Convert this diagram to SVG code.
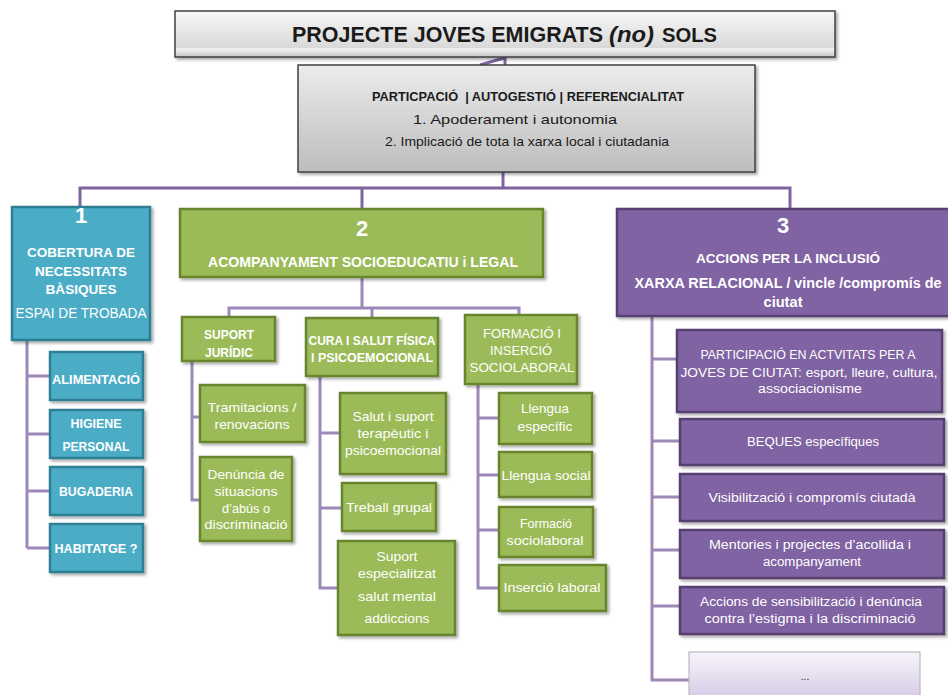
<svg xmlns="http://www.w3.org/2000/svg" width="948" height="695" viewBox="0 0 948 695">
<defs>
<linearGradient id="gTitle" x1="0" y1="0" x2="0" y2="1"><stop offset="0" stop-color="#f7f7f7"/><stop offset="0.8" stop-color="#d9d9d9"/><stop offset="0.82" stop-color="#f4f4f4"/><stop offset="1" stop-color="#c4c4c4"/></linearGradient>
<linearGradient id="gGray" x1="0" y1="0" x2="0" y2="1"><stop offset="0" stop-color="#ececec"/><stop offset="1" stop-color="#bdbdbd"/></linearGradient>
<linearGradient id="gLav" x1="0" y1="0" x2="0" y2="1"><stop offset="0" stop-color="#f7f4fb"/><stop offset="1" stop-color="#d3c8e4"/></linearGradient>
<filter id="sh" x="-10%" y="-10%" width="125%" height="130%"><feDropShadow dx="2" dy="2" stdDeviation="1.5" flood-color="#000" flood-opacity="0.35"/></filter>
</defs>
<style>
text{font-family:"Liberation Sans",Arial,sans-serif;text-anchor:middle}
.s{text-anchor:start}
.w{fill:#ffffff}
.b{font-weight:bold}
.d{fill:#1a1a1a}
.teal{fill:#4bacc6;stroke:#2f7f94;stroke-width:2.5}
.green{fill:#9bbb59;stroke:#67852f;stroke-width:2.5}
.purp{fill:#8064a2;stroke:#553f71;stroke-width:2.5}
.con{fill:none;stroke:#9d88ba;stroke-width:3}
.con2{fill:none;stroke:#8064a2;stroke-width:3}
</style>

<g id="connectors">
<path class="con2" d="M480,65 L497,60 L505,58 L505,65"/>
<path class="con2" d="M503,172 V188 M80,207 V188 H790 V209 M362,188 V209"/>
<path class="con" d="M27,340 V548 M27,376 H50 M27,434 H50 M27,491 H50 M27,548 H50"/>
<path class="con" d="M362,277 V308 M229,318 V308 H519 V316 M372,308 V318"/>
<path class="con" d="M192,361 V500 H200 M192,417 H200"/>
<path class="con" d="M320,376 V588 H338 M320,433 H340 M320,508 H342"/>
<path class="con" d="M478,384 V588 H499 M478,418 H499 M478,475 H499 M478,530 H499"/>
<path class="con" d="M652,316 V680 H689 M652,359 H677 M652,441 H680 M652,497 H680 M652,550 H680 M652,606 H680"/>
</g>

<g id="title">
<rect x="175" y="11" width="660" height="46" fill="url(#gTitle)" stroke="#404040" stroke-width="1.5" filter="url(#sh)"/>
<text x="292" y="42" class="s b d" font-size="21.3" textLength="311" lengthAdjust="spacingAndGlyphs">PROJECTE JOVES EMIGRATS</text>
<text x="609" y="42" class="s b d" font-size="21.3" font-style="italic" textLength="45" lengthAdjust="spacingAndGlyphs">(no)</text>
<text x="662" y="42" class="s b d" font-size="20.5" textLength="55" lengthAdjust="spacingAndGlyphs">SOLS</text>
</g>

<g id="principles">
<rect x="298" y="65" width="457" height="107" fill="url(#gGray)" stroke="#404040" stroke-width="1.5" filter="url(#sh)"/>
<text x="528" y="101" class="b d" font-size="12" textLength="312" lengthAdjust="spacingAndGlyphs" xml:space="preserve">PARTICPACIÓ  | AUTOGESTIÓ | REFERENCIALITAT</text>
<text x="515" y="124" class="d" font-size="13" textLength="204" lengthAdjust="spacingAndGlyphs">1. Apoderament i autonomia</text>
<text x="527" y="146" class="d" font-size="13" textLength="284" lengthAdjust="spacingAndGlyphs">2. Implicació de tota la xarxa local i ciutadania</text>
</g>

<g id="n1">
<rect x="12" y="207" width="138" height="133" class="teal" filter="url(#sh)"/>
<text x="81" y="223" class="w b" font-size="22">1</text>
<text x="81" y="257" class="w b" font-size="13" textLength="108" lengthAdjust="spacingAndGlyphs">COBERTURA DE</text>
<text x="81" y="276" class="w b" font-size="13" textLength="92" lengthAdjust="spacingAndGlyphs">NECESSITATS</text>
<text x="81" y="294" class="w b" font-size="13" textLength="71" lengthAdjust="spacingAndGlyphs">BÀSIQUES</text>
<text x="81" y="318" class="w" font-size="14" textLength="131" lengthAdjust="spacingAndGlyphs">ESPAI DE TROBADA</text>
</g>
<g id="n1a"><rect x="50" y="352" width="93" height="48" class="teal" filter="url(#sh)"/>
<text x="96" y="384" class="w b" font-size="12" textLength="88" lengthAdjust="spacingAndGlyphs">ALIMENTACIÓ</text></g>
<g id="n1b"><rect x="50" y="410" width="93" height="48" class="teal" filter="url(#sh)"/>
<text x="96" y="428" class="w b" font-size="12" textLength="51" lengthAdjust="spacingAndGlyphs">HIGIENE</text>
<text x="96" y="451" class="w b" font-size="12" textLength="67" lengthAdjust="spacingAndGlyphs">PERSONAL</text></g>
<g id="n1c"><rect x="50" y="467" width="93" height="48" class="teal" filter="url(#sh)"/>
<text x="96" y="496" class="w b" font-size="12" textLength="74" lengthAdjust="spacingAndGlyphs">BUGADERIA</text></g>
<g id="n1d"><rect x="50" y="524" width="93" height="48" class="teal" filter="url(#sh)"/>
<text x="96" y="553" class="w b" font-size="12" textLength="83" lengthAdjust="spacingAndGlyphs">HABITATGE ?</text></g>

<g id="n2">
<rect x="180" y="209" width="363" height="68" class="green" filter="url(#sh)"/>
<text x="362" y="236" class="w b" font-size="22">2</text>
<text x="363" y="267" class="w b" font-size="14" textLength="310" lengthAdjust="spacingAndGlyphs">ACOMPANYAMENT SOCIOEDUCATIU i LEGAL</text>
</g>
<g id="n2a"><rect x="182" y="317" width="93" height="44" class="green" filter="url(#sh)"/>
<text x="229" y="339" class="w b" font-size="12" textLength="50" lengthAdjust="spacingAndGlyphs">SUPORT</text>
<text x="229" y="357" class="w b" font-size="12" textLength="48" lengthAdjust="spacingAndGlyphs">JURÍDIC</text></g>
<g id="n2b"><rect x="306" y="318" width="132" height="58" class="green" filter="url(#sh)"/>
<text x="372" y="345" class="w b" font-size="12" textLength="127" lengthAdjust="spacingAndGlyphs">CURA I SALUT FÍSICA</text>
<text x="372" y="362" class="w b" font-size="12" textLength="122" lengthAdjust="spacingAndGlyphs">I PSICOEMOCIONAL</text></g>
<g id="n2c"><rect x="465" y="315" width="112" height="69" class="green" filter="url(#sh)"/>
<text x="522" y="338" class="w" font-size="12" textLength="78" lengthAdjust="spacingAndGlyphs">FORMACIÓ I</text>
<text x="521" y="355" class="w" font-size="12" textLength="62" lengthAdjust="spacingAndGlyphs">INSERCIÓ</text>
<text x="522" y="372" class="w" font-size="12" textLength="105" lengthAdjust="spacingAndGlyphs">SOCIOLABORAL</text></g>

<g id="n2a1"><rect x="200" y="385" width="105" height="57" class="green" filter="url(#sh)"/>
<text x="252" y="412" class="w" font-size="13" textLength="89" lengthAdjust="spacingAndGlyphs">Tramitacions /</text>
<text x="252" y="429" class="w" font-size="13" textLength="75" lengthAdjust="spacingAndGlyphs">renovacions</text></g>
<g id="n2a2"><rect x="200" y="457" width="92" height="84" class="green" filter="url(#sh)"/>
<text x="246" y="479" class="w" font-size="13" textLength="77" lengthAdjust="spacingAndGlyphs">Denúncia de</text>
<text x="246" y="496" class="w" font-size="13" textLength="63" lengthAdjust="spacingAndGlyphs">situacions</text>
<text x="246" y="513" class="w" font-size="13" textLength="48" lengthAdjust="spacingAndGlyphs">d’abús o</text>
<text x="246" y="529" class="w" font-size="13" textLength="83" lengthAdjust="spacingAndGlyphs">discriminació</text></g>

<g id="n2b1"><rect x="340" y="393" width="106" height="81" class="green" filter="url(#sh)"/>
<text x="393" y="421" class="w" font-size="13" textLength="81" lengthAdjust="spacingAndGlyphs">Salut i suport</text>
<text x="393" y="438" class="w" font-size="13" textLength="71" lengthAdjust="spacingAndGlyphs">terapèutic i</text>
<text x="393" y="455" class="w" font-size="13" textLength="96" lengthAdjust="spacingAndGlyphs">psicoemocional</text></g>
<g id="n2b2"><rect x="342" y="483" width="94" height="48" class="green" filter="url(#sh)"/>
<text x="389" y="512" class="w" font-size="13" textLength="86" lengthAdjust="spacingAndGlyphs">Treball grupal</text></g>
<g id="n2b3"><rect x="338" y="541" width="117" height="94" class="green" filter="url(#sh)"/>
<text x="397" y="561" class="w" font-size="13" textLength="41" lengthAdjust="spacingAndGlyphs">Suport</text>
<text x="397" y="578" class="w" font-size="13" textLength="78" lengthAdjust="spacingAndGlyphs">especialitzat</text>
<text x="397" y="601" class="w" font-size="13" textLength="78" lengthAdjust="spacingAndGlyphs">salut mental</text>
<text x="397" y="623" class="w" font-size="13" textLength="65" lengthAdjust="spacingAndGlyphs">addiccions</text></g>

<g id="n2c1"><rect x="499" y="393" width="93" height="51" class="green" filter="url(#sh)"/>
<text x="545" y="413" class="w" font-size="13" textLength="48" lengthAdjust="spacingAndGlyphs">Llengua</text>
<text x="545" y="431" class="w" font-size="13" textLength="55" lengthAdjust="spacingAndGlyphs">específic</text></g>
<g id="n2c2"><rect x="499" y="452" width="93" height="45" class="green" filter="url(#sh)"/>
<text x="546" y="480" class="w" font-size="13" textLength="89" lengthAdjust="spacingAndGlyphs">Llengua social</text></g>
<g id="n2c3"><rect x="499" y="507" width="94" height="50" class="green" filter="url(#sh)"/>
<text x="546" y="528" class="w" font-size="13" textLength="52" lengthAdjust="spacingAndGlyphs">Formació</text>
<text x="545" y="545" class="w" font-size="13" textLength="77" lengthAdjust="spacingAndGlyphs">sociolaboral</text></g>
<g id="n2c4"><rect x="499" y="565" width="107" height="46" class="green" filter="url(#sh)"/>
<text x="552" y="592" class="w" font-size="13" textLength="97" lengthAdjust="spacingAndGlyphs">Inserció laboral</text></g>

<g id="n3">
<rect x="617" y="209" width="340" height="107" class="purp" filter="url(#sh)"/>
<text x="783" y="233" class="w b" font-size="22">3</text>
<text x="788" y="263" class="w b" font-size="13" textLength="184" lengthAdjust="spacingAndGlyphs">ACCIONS PER LA INCLUSIÓ</text>
<text x="788" y="288" class="w b" font-size="14" textLength="307" lengthAdjust="spacingAndGlyphs">XARXA RELACIONAL / vincle /compromís de</text>
<text x="783" y="307" class="w b" font-size="14" textLength="39" lengthAdjust="spacingAndGlyphs">ciutat</text>
</g>
<g id="n3a"><rect x="677" y="330" width="265" height="82" class="purp" filter="url(#sh)"/>
<text x="808" y="359" class="w" font-size="12.5" textLength="215" lengthAdjust="spacingAndGlyphs">PARTICIPACIÓ EN ACTVITATS PER A</text>
<text x="809" y="377" class="w" font-size="12.5" textLength="257" lengthAdjust="spacingAndGlyphs">JOVES DE CIUTAT: esport, lleure, cultura,</text>
<text x="810" y="393" class="w" font-size="12.5" textLength="104" lengthAdjust="spacingAndGlyphs">associacionisme</text></g>
<g id="n3b"><rect x="680" y="419" width="264" height="46" class="purp" filter="url(#sh)"/>
<text x="813" y="446" class="w" font-size="12.5" textLength="132" lengthAdjust="spacingAndGlyphs">BEQUES específiques</text></g>
<g id="n3c"><rect x="680" y="474" width="264" height="47" class="purp" filter="url(#sh)"/>
<text x="812" y="502" class="w" font-size="12.5" textLength="207" lengthAdjust="spacingAndGlyphs">Visibilització i compromís ciutadà</text></g>
<g id="n3d"><rect x="680" y="530" width="264" height="48" class="purp" filter="url(#sh)"/>
<text x="810" y="549" class="w" font-size="12.5" textLength="202" lengthAdjust="spacingAndGlyphs">Mentories i projectes d’acollida i</text>
<text x="812" y="566" class="w" font-size="12.5" textLength="98" lengthAdjust="spacingAndGlyphs">acompanyament</text></g>
<g id="n3e"><rect x="680" y="587" width="264" height="47" class="purp" filter="url(#sh)"/>
<text x="811" y="606" class="w" font-size="12.5" textLength="222" lengthAdjust="spacingAndGlyphs">Accions de sensibilització i denúncia</text>
<text x="810" y="623" class="w" font-size="12.5" textLength="211" lengthAdjust="spacingAndGlyphs">contra l’estigma i la discriminació</text></g>
<g id="n3f"><rect x="689" y="652" width="231" height="50" fill="url(#gLav)" stroke="#b9b9b9" stroke-width="1.2"/>
<text x="805" y="680" class="d" font-size="10">...</text></g>
</svg>
